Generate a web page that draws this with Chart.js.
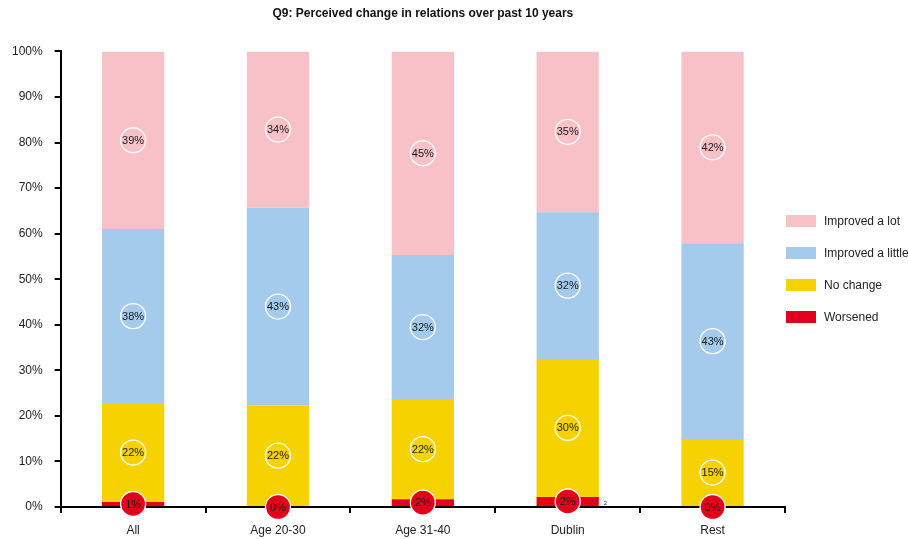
<!DOCTYPE html>
<html>
<head>
<meta charset="utf-8">
<script src="https://cdn.jsdelivr.net/npm/chart.js@4.4.0/dist/chart.umd.min.js"></script>
<style>
  html, body { margin: 0; padding: 0; background: #fff; }
  #wrap { position: relative; width: 908px; height: 539px; }
  #legend { position: absolute; left: 786px; top: 215px; font: 12px 'Liberation Sans', Arial, sans-serif; color: #222; }
  .lg-item { display: flex; align-items: center; height: 12px; margin-bottom: 20px; white-space: nowrap; }
  .lg-box { width: 30px; height: 12px; margin-right: 8px; }
</style>
</head>
<body>
<div id="wrap">
  <canvas id="relChart" width="908" height="539"></canvas>
  <div id="legend"></div>
</div>
<script>
// categories along the x axis
const categories = ['All', 'Age 20-30', 'Age 31-40', 'Dublin', 'Rest'];

// percentages per answer, bottom of the stack first
const worsened        = [1.1, 0.0, 1.7, 2.2, 0.0];
const noChange        = [21.7, 22.3, 22.0, 30.3, 14.9];
const improvedLittle  = [38.2, 43.4, 31.6, 32.2, 43.0];
const improvedLot     = [39.0, 34.3, 44.7, 35.3, 42.1];

const yTicks = [0, 10, 20, 30, 40, 50, 60, 70, 80, 90, 100];

const FONT = "'Liberation Sans', Arial, sans-serif";

// circles with the percentage in the middle of each segment
const circleLabels = {
    id: 'circleLabels',
    afterDatasetsDraw(chart) {
        const ctx = chart.ctx;
        ctx.save();
        chart.data.datasets.forEach((ds, i) => {
            const meta = chart.getDatasetMeta(i);
            meta.data.forEach((bar, j) => {
                const top = Math.min(bar.y, bar.base);
                const bottom = Math.max(bar.y, bar.base);
                const cy = (top + bottom) / 2;
                const cx = bar.x;
                const r = 12.5;
                ctx.beginPath();
                ctx.arc(cx, cy, r, 0, Math.PI * 2);
                if (i === 0) {
                    ctx.fillStyle = '#e2001a';
                    ctx.fill();
                }
                ctx.lineWidth = 1.3;
                ctx.strokeStyle = '#ffffff';
                ctx.stroke();
                ctx.fillStyle = '#1a1a1a';
                ctx.font = '11px ' + FONT;
                ctx.textAlign = 'center';
                ctx.textBaseline = 'middle';
                ctx.fillText(Math.round(ds.data[j]) + '%', cx, cy + 0.5);
            });
        });
        // small stray mark next to the Dublin bar
        const dub = chart.getDatasetMeta(0).data[3];
        ctx.font = '6px ' + FONT;
        ctx.fillStyle = '#333';
        ctx.textAlign = 'left';
        ctx.fillText('2', dub.x + dub.width / 2 + 5, dub.base - 3);
        ctx.restore();
    }
};

const chart = new Chart(document.getElementById('relChart').getContext('2d'), {
    type: 'bar',
    data: {
        labels: categories,
        datasets: [
            { label: 'Worsened', data: worsened, backgroundColor: '#e2001a' },
            { label: 'No change', data: noChange, backgroundColor: '#f5d200' },
            { label: 'Improved a little', data: improvedLittle, backgroundColor: '#a4cbeb' },
            { label: 'Improved a lot', data: improvedLot, backgroundColor: '#f8c1c8' }
        ]
    },
    options: {
        responsive: false,
        animation: false,
        layout: { padding: { top: 4, right: 123, left: 0, bottom: 0 } },
        datasets: { bar: { barPercentage: 0.43, categoryPercentage: 1.0, borderWidth: 0 } },
        plugins: {
            title: {
                display: true,
                fullSize: false,
                text: 'Q9: Perceived change in relations over past 10 years',
                color: '#111',
                font: { family: FONT, size: 12, weight: 'bold' },
                padding: { top: 2, bottom: 31 }
            },
            legend: { display: false },
            tooltip: { enabled: false }
        },
        scales: {
            x: {
                stacked: true,
                afterFit: axis => { axis.height = 32; },
                grid: { display: true, drawOnChartArea: false, drawTicks: true, tickLength: 6, tickColor: '#000', lineWidth: 2 },
                border: { display: true, color: '#000', width: 2 },
                ticks: { color: '#222', font: { family: FONT, size: 12 }, padding: 10 }
            },
            y: {
                stacked: true,
                min: 0,
                max: 100,
                afterBuildTicks: axis => { axis.ticks = yTicks.map(v => ({ value: v })); },
                grid: { display: true, drawOnChartArea: false, drawTicks: true, tickLength: 6, tickColor: '#000', lineWidth: 2 },
                border: { display: true, color: '#000', width: 2 },
                ticks: {
                    color: '#222',
                    font: { family: FONT, size: 12 },
                    padding: 12,
                    callback: v => v + '%'
                }
            }
        }
    },
    plugins: [circleLabels]
});

// legend on the right, top entry = top of the stack
const legendEl = document.getElementById('legend');
chart.data.datasets.slice().reverse().forEach(ds => {
    const item = document.createElement('div');
    item.className = 'lg-item';
    item.innerHTML = `<span class="lg-box" style="background:${ds.backgroundColor}"></span><span>${ds.label}</span>`;
    legendEl.appendChild(item);
});
</script>
</body>
</html>
